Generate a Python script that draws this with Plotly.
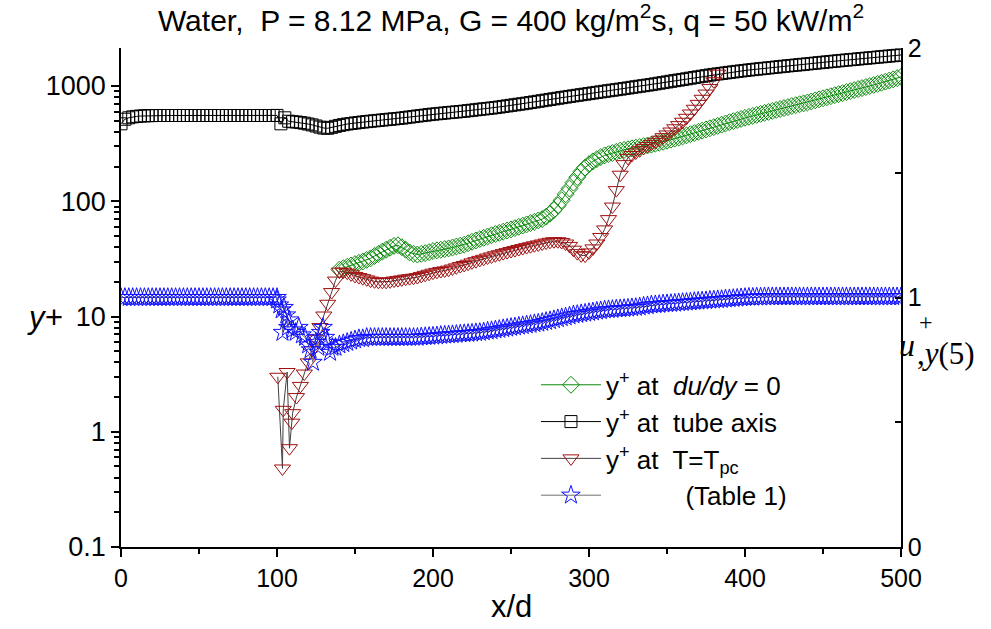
import numpy as np
import plotly.graph_objects as go

STEP = 2.5  # x/d spacing of the sampled profiles

# y+ at the tube axis, every 2.5 x/d starting at x/d = 0
axis_x0 = 0.0
yplus_axis = [
    470, 515, 530, 540, 545, 549, 551, 553, 554,
    555, 555, 555, 555, 555, 555, 555, 555, 555, 555,
    555, 555, 555, 555, 555, 555, 555, 555, 555, 555,
    555, 555, 555, 555, 555, 555, 555, 555, 555, 555, 555,
    556,
    470, 530, 495, 490, 487, 482, 476, 468, 460, 450, 440, 432, 430, 438, 447, 455,
    462, 468, 473, 478, 482, 487, 491, 495, 499, 503, 507, 511, 515, 519, 523, 527,
    532, 538, 543, 549, 554, 559, 565, 570,
    574, 579, 583, 588, 592, 596, 601, 605,
    611, 616, 622, 628, 633, 639, 644, 650,
    657, 665, 672, 680, 687, 695, 702, 710,
    719, 728, 737, 746, 755, 765, 774, 783,
    793, 802, 812, 822, 831, 841, 850, 860,
    870, 880, 890, 900, 910, 920, 930, 940,
    951, 962, 974, 985, 996, 1007, 1019, 1030,
    1044, 1058, 1071, 1085, 1099, 1113, 1126, 1140,
    1155, 1170, 1185, 1200, 1215, 1230, 1245, 1260,
    1273, 1286, 1299, 1313, 1326, 1339, 1352, 1365,
    1377, 1389, 1401, 1413, 1424, 1436, 1448, 1460,
    1472, 1484, 1496, 1508, 1519, 1531, 1543, 1555,
    1568, 1580, 1593, 1605, 1618, 1630, 1643, 1655,
    1668, 1680, 1693, 1705, 1718, 1730, 1743, 1755,
    1768, 1781, 1794, 1808, 1821, 1834, 1847, 1860,
]

# y+ where du/dy = 0, every 2.5 x/d starting at x/d = 140
dudy_x0 = 140.0
yplus_dudy = [
    25.5, 26.2, 27, 27.7, 28.5, 29.2, 30, 31, 32, 33.5, 35, 36.5, 38, 39.5, 41, 41.5,
    40, 38, 36, 35, 34.5, 35, 35.5, 36.2, 37, 37.5, 38, 38.5, 39, 39.7, 40.5, 41.2,
    42, 43.2, 44.5, 45.7, 47, 48.2, 49.5, 50.7, 52, 53.2, 54.5, 55.7, 57, 58.5, 60, 61.5,
    63, 64.7, 66.5, 68.2, 70, 73.5, 78, 84, 92, 102, 115, 129, 145, 162, 180, 196,
    210, 222, 232, 242, 250, 256, 262, 268, 275, 279, 283, 288, 292, 296, 301, 305,
    310, 316, 322, 328, 335, 342, 350, 357, 365, 373, 382, 391, 400, 410, 420, 430,
    440, 451, 462, 473, 485, 496, 507, 518, 530, 540, 551, 562, 573, 585, 596, 608,
    620, 632, 644, 657, 670, 682, 695, 707, 720, 735, 751, 767, 783, 799, 816, 833,
    850, 867, 885, 904, 922, 941, 960, 980, 1000, 1022, 1045, 1068, 1092, 1117, 1142, 1170,
    1200,
]

# y+ at T = Tpc: scattered points at the start of heating, then every 2.5 x/d from 112.5
tpc_entry_x = [100.5, 103.5, 104.0, 106.5, 108.0, 109.5, 110.0]
tpc_entry_y = [3.0, 0.48, 1.55, 3.3, 0.72, 1.2, 1.45]
tpc_x0 = 112.5
yplus_tpc = [
    2.0, 2.5, 3.2, 4.0, 5.1, 6.4, 8.1, 10.2, 12.9, 16.3, 20.5,
    24.5, 24.5, 24, 23.2, 22.5, 22, 21.5, 21, 20.5, 20.2, 20, 20, 20, 20.2, 20.5, 20.7,
    21, 21.3, 21.5, 21.7, 22, 22.5, 23, 23.5, 24, 24.4, 24.8, 25.1, 25.5, 26.1, 26.7, 27.4,
    28, 28.7, 29.5, 30.2, 31, 31.7, 32.5, 33.2, 34, 34.7, 35.5, 36.2, 37, 37.7, 38.5, 39.2,
    40, 40.7, 41.5, 42.2, 43, 43.8, 44.5, 45, 45, 44.3, 43, 41, 38, 35.5, 34, 33.8,
    36, 39, 43, 49, 57, 70, 90, 125, 170, 210, 238, 252, 265, 277, 290, 302,
    315, 328, 342, 360, 380, 403, 430, 458, 490, 530, 578, 635, 700, 775, 860, 960,
    1100, 1280,
]

# u+ at y(5) (right axis)
u_flat_x0 = 0.0
u_flat = [
    1.0, 1.0, 1.0, 1.0, 1.0, 1.0, 1.0, 1.0, 1.0, 1.0, 1.0, 1.0, 1.0, 1.0,
    1.0, 1.0, 1.0, 1.0, 1.0, 1.0, 1.0, 1.0, 1.0, 1.0, 1.0, 1.0, 1.0, 1.0,
    1.0, 1.0, 1.0, 1.0, 1.0, 1.0, 1.0, 1.0, 1.0, 1.0, 1.0, 1.0, 1.0,
]
u_mid_x = [100.0, 101.5, 103.0, 103.5, 104.5, 106.0, 107.0, 108.0, 110.0, 112.0, 114.0, 116.0,
           118.0, 120.0, 121.5, 123.0, 125.0, 126.5, 128.0, 129.5, 131.0, 132.5, 134.0, 135.5]
u_mid = [0.99, 0.97, 0.95, 0.86, 0.96, 0.93, 0.88, 0.91, 0.87, 0.86, 0.88, 0.85,
         0.84, 0.81, 0.79, 0.74, 0.82, 0.80, 0.86, 0.88, 0.84, 0.82, 0.78, 0.80]
u_tail_x0 = 137.5
u_tail = [
    0.80, 0.81, 0.815, 0.82, 0.825, 0.83, 0.835, 0.835, 0.84, 0.84, 0.84, 0.84, 0.84,
    0.84, 0.84, 0.84, 0.84, 0.84, 0.84, 0.84, 0.84, 0.84, 0.842, 0.843, 0.844, 0.845,
    0.846, 0.848, 0.849, 0.85, 0.851, 0.852, 0.854, 0.855, 0.856, 0.857, 0.859, 0.86,
    0.862, 0.865, 0.867, 0.87, 0.872, 0.875, 0.877, 0.88, 0.882, 0.885, 0.887, 0.89,
    0.892, 0.895, 0.897, 0.90, 0.904, 0.907, 0.911, 0.915, 0.919, 0.922, 0.926, 0.93,
    0.932, 0.935, 0.937, 0.94, 0.942, 0.945, 0.947, 0.95, 0.951, 0.952, 0.954, 0.955,
    0.956, 0.957, 0.959, 0.96, 0.962, 0.965, 0.967, 0.97, 0.971, 0.972, 0.974, 0.975,
    0.976, 0.977, 0.979, 0.98, 0.981, 0.982, 0.984, 0.985, 0.986, 0.987, 0.989, 0.99,
    0.991, 0.992, 0.994, 0.995, 0.996, 0.997, 0.999, 1.0,
    1.001, 1.001, 1.002, 1.002, 1.003, 1.003, 1.003, 1.003,
    1.003, 1.003, 1.003, 1.003, 1.003, 1.003, 1.003, 1.003,
    1.003, 1.003, 1.003, 1.003, 1.003, 1.003, 1.003, 1.003,
    1.003, 1.003, 1.003, 1.003, 1.003, 1.003, 1.003, 1.003,
    1.003, 1.003, 1.003, 1.003, 1.003, 1.003, 1.003, 1.003,
]

legend_names = [
    "y<sup>+</sup> at  <i>du/dy</i> = 0",
    "y<sup>+</sup> at  tube axis",
    "y<sup>+</sup> at  T=T<sub>pc</sub>",
    "\u00a0" * 11 + "(Table 1)",
]
x_ticks = [0, 100, 200, 300, 400, 500]
y_ticks = [0.1, 1, 10, 100, 1000]
y_ticklabels = ["0.1", "1", "10", "100", "1000"]
y2_ticks = [0, 1, 2]


def grid(x0, values):
    return x0 + STEP * np.arange(len(values))


axis_x = grid(axis_x0, yplus_axis)
dudy_x = grid(dudy_x0, yplus_dudy)
tpc_x = np.concatenate([tpc_entry_x, grid(tpc_x0, yplus_tpc)])
tpc_y = np.concatenate([tpc_entry_y, yplus_tpc])
u_x = np.concatenate([grid(u_flat_x0, u_flat), u_mid_x, grid(u_tail_x0, u_tail)])
u_y = np.concatenate([u_flat, u_mid, u_tail])

FONT = "Liberation Sans, Arial, sans-serif"
SERIF = "Liberation Serif, serif"
GREEN = "#0a8a0a"
RED = "#a01010"
BLUE = "#1010ff"

fig = go.Figure()
fig.add_trace(go.Scatter(
    x=dudy_x, y=yplus_dudy, mode="lines+markers", name=legend_names[0], legendgroup="a",
    line=dict(color=GREEN, width=1),
    marker=dict(symbol="diamond-open", size=13, color=GREEN, line=dict(width=1)),
))
fig.add_trace(go.Scatter(
    x=axis_x, y=yplus_axis, mode="lines+markers", name=legend_names[1], legendgroup="b",
    line=dict(color="black", width=1),
    marker=dict(symbol="square-open", size=12, color="black", line=dict(width=1)),
))
fig.add_trace(go.Scatter(
    x=tpc_x, y=tpc_y, mode="lines+markers", name=legend_names[2], legendgroup="c",
    line=dict(color="#404040", width=1),
    marker=dict(symbol="triangle-down-open", size=14, color=RED, line=dict(width=1)),
))
fig.add_trace(go.Scatter(
    x=u_x, y=u_y, mode="lines+markers", name=legend_names[3], legendgroup="d", yaxis="y2",
    line=dict(color="#707070", width=1),
    marker=dict(symbol="star-open", size=14, color=BLUE, line=dict(width=1)),
))

fig.update_layout(
    width=991, height=629,
    margin=dict(l=121, r=90, t=48, b=82),
    paper_bgcolor="white", plot_bgcolor="white",
    font=dict(family=FONT, size=24, color="black"),
    showlegend=True,
    legend=dict(
        x=0.532, y=0.372, xanchor="left", yanchor="top",
        bgcolor="rgba(0,0,0,0)", font=dict(size=26),
        itemwidth=60, traceorder="grouped", tracegroupgap=0,
    ),
    xaxis=dict(
        range=[0, 500], tickvals=x_ticks, ticks="outside", ticklen=8, tickwidth=1.5,
        tickcolor="black", showline=True, linecolor="black", linewidth=1.5,
        showgrid=False, zeroline=False, tickfont=dict(size=25),
        minor=dict(tickvals=[50, 150, 250, 350, 450], ticks="outside", ticklen=5,
                   tickcolor="black", showgrid=False),
    ),
    yaxis=dict(
        type="log", range=[-1, 3.33], tickvals=y_ticks, ticktext=y_ticklabels,
        ticks="outside", ticklen=8, tickwidth=1.5, tickcolor="black",
        showline=True, linecolor="black", linewidth=1.5, showgrid=False, zeroline=False,
        tickfont=dict(size=27),
        minor=dict(tickvals=[0.2, 0.3, 0.4, 0.5, 0.6, 0.7, 0.8, 0.9,
                             2, 3, 4, 5, 6, 7, 8, 9, 20, 30, 40, 50, 60, 70, 80, 90,
                             200, 300, 400, 500, 600, 700, 800, 900],
                   ticks="outside", ticklen=5, tickcolor="black", showgrid=False),
    ),
    yaxis2=dict(
        overlaying="y", side="right", range=[0, 2], tickvals=y2_ticks,
        ticks="inside", ticklen=6, tickwidth=1.5, tickcolor="black",
        showline=True, linecolor="black", linewidth=1.5, showgrid=False, zeroline=False,
        tickfont=dict(size=25),
        minor=dict(tickvals=[0.5, 1.5], ticks="inside", ticklen=6, tickcolor="black",
                   showgrid=False),
    ),
    title=dict(
        text="Water,  P = 8.12 MPa, G = 400 kg/m<sup>2</sup>s, q = 50 kW/m<sup>2</sup>",
        x=0.5, xref="paper", xanchor="center", y=0.968, yref="container", yanchor="middle",
        font=dict(size=30),
    ),
)

fig.add_annotation(text="x/d", xref="paper", yref="paper", x=0.5, y=-0.12,
                   showarrow=False, font=dict(size=31),
                   xanchor="center", yanchor="middle")
fig.add_annotation(text="<i>y+</i>", xref="paper", yref="paper", x=-0.097, y=0.46,
                   showarrow=False, font=dict(size=31), xanchor="center", yanchor="middle")
fig.add_annotation(text="<i>u</i>", xref="paper", yref="paper",
                   x=0.995, y=0.405, xanchor="left", yanchor="middle", showarrow=False,
                   font=dict(family=SERIF, size=32))
fig.add_annotation(text="+", xref="paper", yref="paper",
                   x=1.021, y=0.45, xanchor="left", yanchor="middle", showarrow=False,
                   font=dict(family=SERIF, size=24))
fig.add_annotation(text=",<i>y</i>(5)", xref="paper", yref="paper",
                   x=1.018, y=0.388, xanchor="left", yanchor="middle", showarrow=False,
                   font=dict(family=SERIF, size=31))

fig.write_html("out.html")
